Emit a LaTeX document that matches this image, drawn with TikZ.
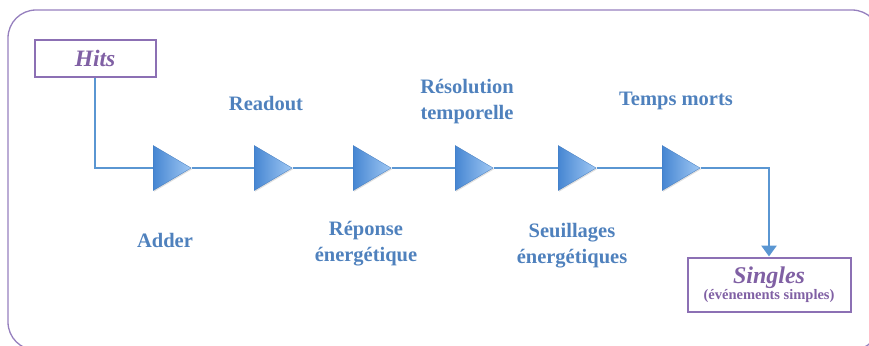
\documentclass[tikz,border=0pt]{standalone}
\usepackage{fontspec}
\setmainfont{Liberation Serif}
\usetikzlibrary{shapes.geometric,shadows,arrows.meta,backgrounds}
\definecolor{frameP}{RGB}{150,128,190}
\definecolor{boxP}{RGB}{140,112,180}
\definecolor{txtP}{RGB}{128,96,164}
\definecolor{lineB}{RGB}{90,150,210}
\definecolor{txtB}{RGB}{79,129,189}
\definecolor{triL}{RGB}{70,134,210}
\definecolor{triR}{RGB}{160,200,244}
\begin{document}
\begin{tikzpicture}[x=1pt,y=-1pt,
  boxstyle/.style={draw=boxP,line width=2pt,fill=white,inner sep=0pt,align=center},
  flow/.style={draw=lineB,line width=2.8pt},
  tri/.style={isosceles triangle,isosceles triangle stretches,shape border rotate=0,
    minimum width=45pt,minimum height=38pt,inner sep=0pt,left color=triL,right color=triR,
    draw=triL!90!black,line width=0.3pt,drop shadow={shadow xshift=1pt,shadow yshift=-1.2pt,opacity=0.25}},
  lab/.style={text=txtB,font=\bfseries\fontsize{20.5}{26}\selectfont,align=center}]
\useasboundingbox (0,0) rectangle (869,345);
\draw[frameP,line width=1.3pt,rounded corners=28pt] (8,10) rectangle (880,350);
\node[boxstyle,minimum width=121pt,minimum height=37pt] (hits) at (95,58.5)
  {\textcolor{txtP}{\bfseries\itshape\fontsize{23.5}{28}\selectfont Hits}};
\node[boxstyle,minimum width=163pt,minimum height=54pt] (singles) at (769,284.5)
  {\textcolor{txtP}{\bfseries\itshape\fontsize{24}{26}\selectfont Singles}\\[0pt]
   \textcolor{txtP}{\bfseries\fontsize{14.5}{16}\selectfont (événements simples)}};
\foreach \i/\x in {1/153,2/254,3/353,4/455,5/558,6/662}{
  \node[tri,anchor=west] (t\i) at (\x,168) {};
}
\coordinate (hs) at ([yshift=2pt]hits.south);
\begin{pgfonlayer}{background}
\draw[flow] (hs) |- (t1.west);
\draw[flow] (t1.east) -- (t2.west);
\draw[flow] (t2.east) -- (t3.west);
\draw[flow] (t3.east) -- (t4.west);
\draw[flow] (t4.east) -- (t5.west);
\draw[flow] (t5.east) -- (t6.west);
\draw[flow,-{Triangle[length=11pt,width=15pt]}] (t6.east) -| (singles.north);
\end{pgfonlayer}
\node[lab] (readout) at (266,104) {Readout};
\node[lab] (resol) at (467,101.5) {Résolution\\temporelle};
\node[lab] (tm) at (676,101) {Temps morts};
\node[lab] (adder) at (165,240) {Adder};
\node[lab] (rep) at (366,244) {Réponse\\énergétique};
\node[lab] (seuil) at (572,246) {Seuillages\\énergétiques};
\end{tikzpicture}
\end{document}
